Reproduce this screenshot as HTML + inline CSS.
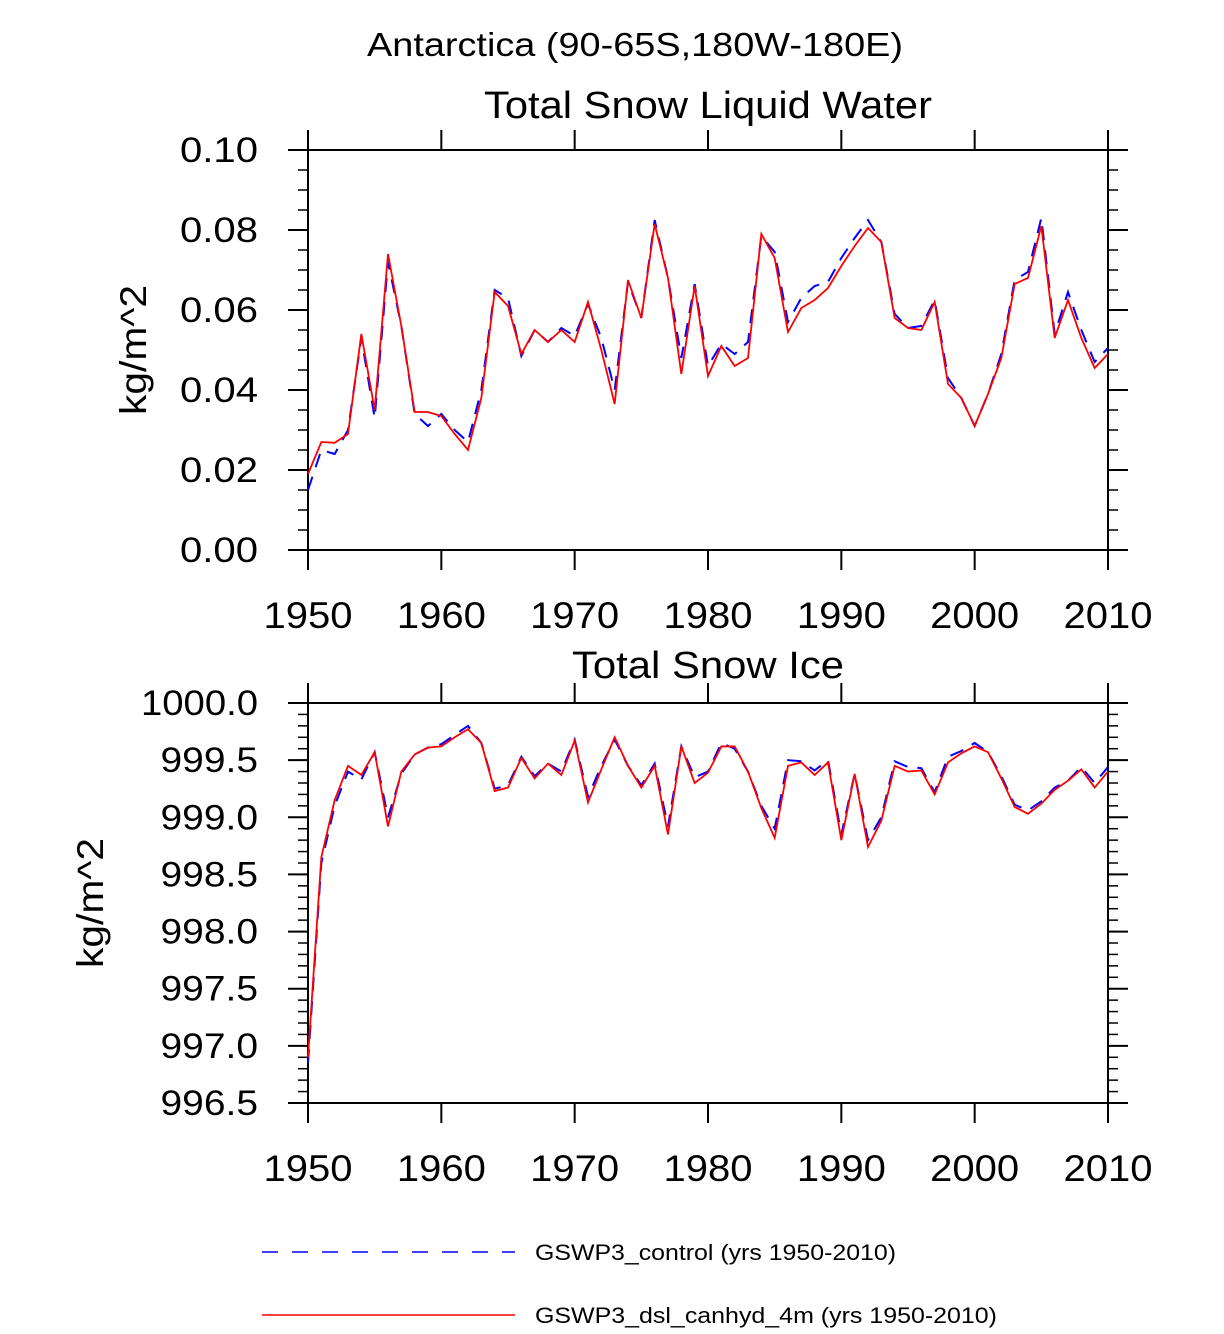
<!DOCTYPE html>
<html><head><meta charset="utf-8"><style>
body{margin:0;background:#fff;}
svg text{font-family:"Liberation Sans",sans-serif;fill:#000;}
</style></head><body>
<svg id="chart" width="1224" height="1329" xmlns="http://www.w3.org/2000/svg">
<text x="367" y="56" font-size="33" textLength="536" lengthAdjust="spacingAndGlyphs">Antarctica (90-65S,180W-180E)</text>
<g id="p1"></g>
<g id="p2"></g>
<g>
<line x1="262" y1="1252" x2="515" y2="1252" stroke="#00f" stroke-width="1.5" stroke-dasharray="16,14"/>
<text x="535" y="1260" font-size="22" textLength="361" lengthAdjust="spacingAndGlyphs">GSWP3_control (yrs 1950-2010)</text>
<line x1="262" y1="1315" x2="515" y2="1315" stroke="#f00" stroke-width="1.5"/>
<text x="535" y="1323" font-size="22" textLength="462" lengthAdjust="spacingAndGlyphs">GSWP3_dsl_canhyd_4m (yrs 1950-2010)</text>
</g>
</svg>
<script>
const years=[];for(let y=1950;y<=2010;y++)years.push(y);
const liqControl=[0.015,0.025,0.024,0.030,0.053,0.033,0.072,0.056,0.034,0.031,0.034,0.030,0.027,0.040,0.065,0.063,0.0485,0.055,0.052,0.0555,0.0535,0.0615,0.053,0.040,0.067,0.058,0.0825,0.068,0.048,0.0665,0.046,0.0515,0.049,0.052,0.0785,0.0745,0.057,0.063,0.066,0.067,0.073,0.078,0.0825,0.077,0.059,0.0555,0.056,0.0625,0.043,0.038,0.031,0.039,0.049,0.0675,0.0695,0.083,0.054,0.0645,0.055,0.047,0.0505];
const liqDsl=[0.019,0.027,0.0268,0.029,0.054,0.035,0.074,0.056,0.0345,0.0345,0.0335,0.029,0.025,0.038,0.0645,0.061,0.049,0.055,0.052,0.055,0.052,0.062,0.050,0.0365,0.0675,0.058,0.0815,0.068,0.044,0.066,0.0435,0.051,0.046,0.048,0.079,0.073,0.0545,0.0605,0.0625,0.0655,0.071,0.076,0.0805,0.077,0.058,0.0555,0.055,0.062,0.0415,0.038,0.031,0.039,0.048,0.0665,0.068,0.081,0.053,0.0625,0.053,0.0455,0.049];
const iceDsl=[996.9,998.65,999.15,999.45,999.37,999.57,998.92,999.4,999.55,999.61,999.62,999.7,999.77,999.65,999.23,999.26,999.52,999.34,999.47,999.37,999.67,999.13,999.42,999.7,999.45,999.26,999.45,998.85,999.62,999.3,999.39,999.62,999.62,999.4,999.08,998.82,999.45,999.48,999.37,999.48,998.8,999.38,998.74,998.97,999.45,999.4,999.41,999.2,999.48,999.56,999.62,999.57,999.34,999.09,999.03,999.12,999.24,999.32,999.42,999.26,999.4];
const iceControl=[996.85,998.6,999.1,999.4,999.33,999.57,999.0,999.38,999.55,999.61,999.64,999.72,999.8,999.65,999.25,999.28,999.53,999.36,999.47,999.4,999.68,999.18,999.45,999.68,999.45,999.28,999.47,998.92,999.62,999.35,999.4,999.65,999.6,999.4,999.1,998.9,999.5,999.49,999.41,999.5,998.85,999.38,998.8,999.0,999.49,999.44,999.43,999.22,999.53,999.58,999.65,999.57,999.36,999.11,999.06,999.14,999.26,999.32,999.44,999.3,999.44];
const liqTicks=["0.00","0.02","0.04","0.06","0.08","0.10"];
const iceTicks=["996.5","997.0","997.5","998.0","998.5","999.0","999.5","1000.0"];
const xTicks=[1950,1960,1970,1980,1990,2000,2010];
const NS="http://www.w3.org/2000/svg";
function mk(p,tag,at){const e=document.createElementNS(NS,tag);for(const k in at)e.setAttribute(k,at[k]);p.appendChild(e);return e;}
function panel(g,top,bot,ymin,ymax,ticks,minorStep,title,titleY,titleW,ytitleX,dsl,ctl,name){
  const L=308,R=1108;
  const xs=v=>L+(v-1950)/60*(R-L);
  const ys=v=>bot-(v-ymin)/(ymax-ymin)*(bot-top);
  let t=mk(g,'text',{x:708,y:titleY,'font-size':38,'text-anchor':'middle',textLength:titleW,lengthAdjust:'spacingAndGlyphs'});t.textContent=title;
  
  
  let r=mk(g,'rect',{x:L,y:top,width:R-L,height:bot-top,fill:'none',stroke:'#000','stroke-width':2});
  
  
  for(let v=ymin;v<=ymax+1e-9;v+=minorStep){const y=ys(v);
    mk(g,'line',{x1:L-10,x2:L,y1:y,y2:y,stroke:'#000','stroke-width':1.5});
    mk(g,'line',{x1:R,x2:R+10,y1:y,y2:y,stroke:'#000','stroke-width':1.5});}
  ticks.forEach(s=>{const y=ys(parseFloat(s));
    mk(g,'line',{x1:L-20,x2:L,y1:y,y2:y,stroke:'#000','stroke-width':2});
    mk(g,'line',{x1:R,x2:R+20,y1:y,y2:y,stroke:'#000','stroke-width':2});
    const e=mk(g,'text',{x:L-50,y:y+12,'font-size':35,'text-anchor':'end',textLength:s.length*19.5,lengthAdjust:'spacingAndGlyphs'});e.textContent=s;
    
    });
  xTicks.forEach(yr=>{const x=xs(yr);
    mk(g,'line',{x1:x,x2:x,y1:bot,y2:bot+20,stroke:'#000','stroke-width':2});
    mk(g,'line',{x1:x,x2:x,y1:top-20,y2:top,stroke:'#000','stroke-width':2});
    const e=mk(g,'text',{x:x,y:bot+78,'font-size':37,'text-anchor':'middle',textLength:89,lengthAdjust:'spacingAndGlyphs'});e.textContent=yr;
    
    });
  const cy=(top+bot)/2;
  const yt=mk(g,'text',{x:ytitleX,y:cy,'font-size':37,'text-anchor':'middle',textLength:130,lengthAdjust:'spacingAndGlyphs',transform:`rotate(-90 ${ytitleX} ${cy})`});yt.textContent='kg/m^2';
  
  
  const pc=mk(g,'polyline',{points:ctl.map((v,i)=>xs(years[i])+','+ys(v)).join(' '),fill:'none',stroke:'#00f','stroke-width':2,'stroke-dasharray':'14,10'});
  
  
  const pd=mk(g,'polyline',{points:dsl.map((v,i)=>xs(years[i])+','+ys(v)).join(' '),fill:'none',stroke:'#f00','stroke-width':1.8});
  
  
}
panel(document.getElementById('p1'),150,550,0,0.10,liqTicks,0.005,'Total Snow Liquid Water',118,448,146,liqDsl,liqControl,'liquid-water');
panel(document.getElementById('p2'),703,1103,996.5,1000,iceTicks,0.1,'Total Snow Ice',678,272,103,iceDsl,iceControl,'snow-ice');
</script>
</body></html>
